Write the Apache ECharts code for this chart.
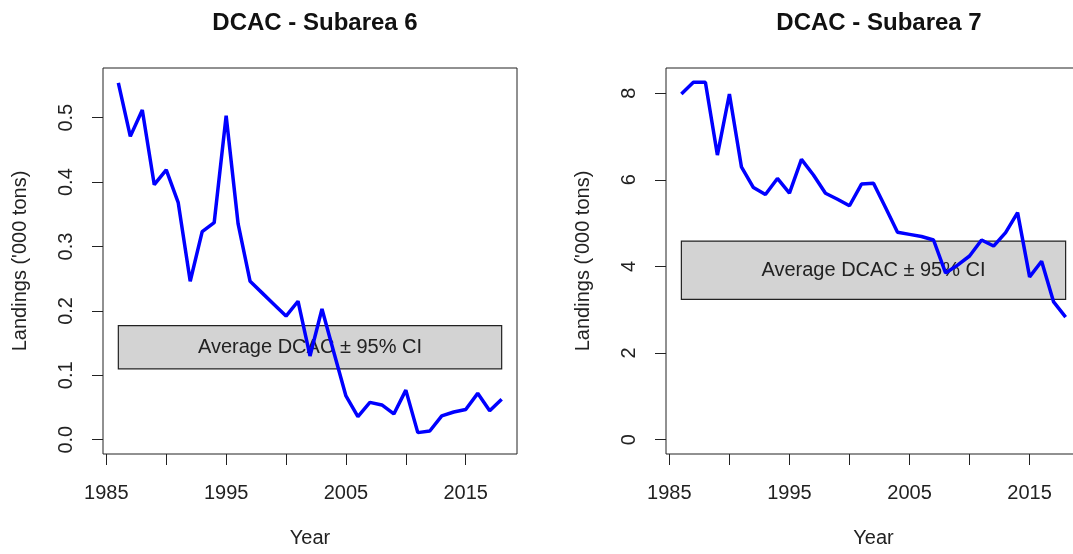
<!DOCTYPE html>
<html>
<head>
<meta charset="utf-8">
<script src="https://cdn.jsdelivr.net/npm/echarts@6/dist/echarts.min.js"></script>
<style>
  html, body { margin: 0; padding: 0; background: #fff; }
  #chart { width: 1073px; height: 554px; }
</style>
</head>
<body>
<div id="chart"></div>
<script>
// years shared by both panels
const years = [];
for (let y = 1986; y <= 2018; y++) years.push(y);

// landings, '000 tons
const landings6 = [0.554, 0.471, 0.512, 0.396, 0.419, 0.368, 0.246, 0.323, 0.337, 0.503,
  0.335, 0.246, 0.228, 0.210, 0.192, 0.215, 0.130, 0.203, 0.135, 0.068,
  0.036, 0.058, 0.054, 0.040, 0.077, 0.011, 0.0135, 0.037, 0.043, 0.047,
  0.072, 0.045, 0.063];
const landings7 = [7.98, 8.25, 8.25, 6.57, 7.98, 6.30, 5.82, 5.66, 6.03, 5.69,
  6.47, 6.11, 5.69, 5.55, 5.40, 5.90, 5.92, 5.36, 4.79, 4.74,
  4.69, 4.61, 3.85, 4.03, 4.24, 4.61, 4.47, 4.78, 5.24, 3.76,
  4.12, 3.18, 2.83];

// average DCAC +/- 95% CI band
const ci6 = [0.110, 0.177];
const ci7 = [3.24, 4.585];

const xTicks = [1985, 1990, 1995, 2000, 2005, 2010, 2015];
const xLabels = [1985, 1995, 2005, 2015];
const yTicks6 = [0, 0.1, 0.2, 0.3, 0.4, 0.5];
const yTicks7 = [0, 2, 4, 6, 8];

const titles = ['DCAC - Subarea 6', 'DCAC - Subarea 7'];
const bandLabel = 'Average DCAC \u00b1 95% CI';

const FONT = 'Liberation Sans, Arial, sans-serif';
const INK = '#222';

// R style limits: pad 4% of range
const xMin = 1986 - 32 * 0.04, xMax = 2018 + 32 * 0.04;

function xAxisFor(gi) {
    return {
        type: 'value', gridIndex: gi, min: xMin, max: xMax,
        name: 'Year', nameLocation: 'middle', nameGap: 74,
        nameTextStyle: {fontSize: 20, color: INK, fontFamily: FONT},
        axisLine: {show: false, onZero: false},
        splitLine: {show: false},
        axisTick: {show: true, length: 11, customValues: xTicks, lineStyle: {color: INK, width: 1}},
        axisLabel: {margin: 29, fontSize: 20, color: INK, fontFamily: FONT, customValues: xLabels,
            formatter: v => String(v)}
    };
}

function yAxisFor(gi, top, ticks, digits) {
    return {
        type: 'value', gridIndex: gi, min: -top * 0.04, max: top * 1.04,
        name: "Landings ('000 tons)", nameLocation: 'middle', nameGap: 73, nameRotate: 90,
        nameTextStyle: {fontSize: 20, color: INK, fontFamily: FONT},
        axisLine: {show: false, onZero: false},
        splitLine: {show: false},
        axisTick: {show: true, length: 11, customValues: ticks, lineStyle: {color: INK, width: 1}},
        axisLabel: {margin: 27, rotate: 90, fontSize: 20, color: INK, fontFamily: FONT, customValues: ticks,
            formatter: v => Number(v).toFixed(digits)}
    };
}

function lineFor(gi, data, ci) {
    return {
        type: 'line', xAxisIndex: gi, yAxisIndex: gi,
        data: years.map((y, i) => [y, data[i]]),
        showSymbol: false, symbol: 'none',
        lineStyle: {color: '#0000ff', width: 3.5},
        z: 5,
        markArea: {
            silent: true,
            itemStyle: {color: '#d3d3d3', borderColor: INK, borderWidth: 1.2},
            label: {show: true, position: 'inside', fontSize: 20, color: INK, fontFamily: FONT},
            data: [[{coord: [years[0], ci[0]], name: bandLabel}, {coord: [years[years.length - 1], ci[1]]}]]
        }
    };
}

const chart = echarts.init(document.getElementById('chart'), null, {renderer: 'canvas'});
chart.setOption({
    animation: false,
    backgroundColor: '#fff',
    title: [
        {text: titles[0], left: 310, top: 6, textAlign: 'center',
            textStyle: {fontSize: 24, fontWeight: 'bold', color: '#111', fontFamily: FONT}},
        {text: titles[1], left: 874, top: 6, textAlign: 'center',
            textStyle: {fontSize: 24, fontWeight: 'bold', color: '#111', fontFamily: FONT}}
    ],
    grid: [
        {left: 103, top: 68, width: 414, height: 386, show: true, borderColor: INK, borderWidth: 1,
            backgroundColor: 'transparent', outerBoundsMode: 'none'},
        {left: 666, top: 68, width: 415, height: 386, show: true, borderColor: INK, borderWidth: 1,
            backgroundColor: 'transparent', outerBoundsMode: 'none'}
    ],
    xAxis: [xAxisFor(0), xAxisFor(1)],
    yAxis: [yAxisFor(0, 0.555, yTicks6, 1), yAxisFor(1, 8.25, yTicks7, 0)],
    series: [lineFor(0, landings6, ci6), lineFor(1, landings7, ci7)]
});
</script>
</body>
</html>
